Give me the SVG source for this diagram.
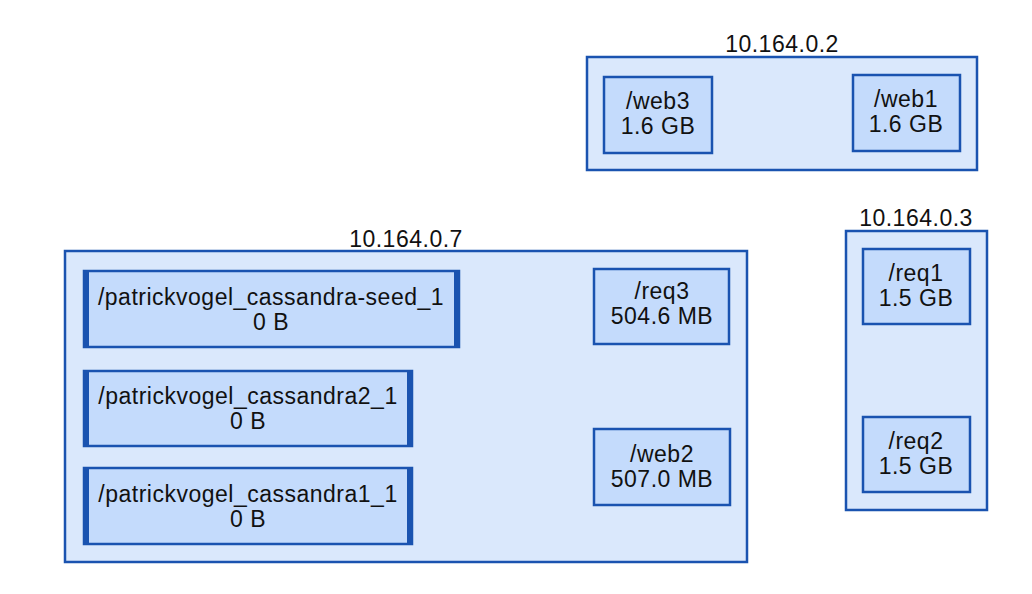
<svg xmlns="http://www.w3.org/2000/svg" width="1032" height="594" viewBox="0 0 1032 594">
<style>
.cl{fill:#dae8fc;stroke:#1a53b0;stroke-width:2.5}
.nd{fill:#c4dbfc;stroke:#1a53b0;stroke-width:2.5}
.bar{fill:#1a53b0}
text{font-family:"Liberation Sans",Arial,sans-serif;font-size:23px;letter-spacing:0.5px;fill:#111;text-anchor:middle}
</style>
<rect width="1032" height="594" fill="#fff"/>
<g id="cluster-10.164.0.2">
<rect class="cl" x="587" y="57" width="390" height="113"/>
<text x="782" y="52">10.164.0.2</text>
</g>
<g id="cluster-10.164.0.7">
<rect class="cl" x="65" y="251" width="682" height="311"/>
<text x="406" y="247">10.164.0.7</text>
</g>
<g id="cluster-10.164.0.3">
<rect class="cl" x="846" y="231" width="141" height="279"/>
<text x="916" y="226">10.164.0.3</text>
</g>
<g id="web3">
<rect class="nd" x="604" y="77" width="108" height="76"/>
<text x="658" y="109">/web3</text><text x="658" y="134">1.6 GB</text>
</g>
<g id="web1">
<rect class="nd" x="853" y="75" width="107" height="76"/>
<text x="906" y="107">/web1</text><text x="906" y="132">1.6 GB</text>
</g>
<g id="seed">
<rect class="nd" x="84" y="271" width="375" height="76"/>
<rect class="bar" x="84" y="271" width="5" height="76"/><rect class="bar" x="454" y="271" width="5" height="76"/>
<text x="271" y="305">/patrickvogel_cassandra-seed_1</text><text x="271" y="330">0 B</text>
</g>
<g id="cassandra2">
<rect class="nd" x="84" y="371" width="328" height="75"/>
<rect class="bar" x="84" y="371" width="5" height="75"/><rect class="bar" x="407" y="371" width="5" height="75"/>
<text x="248" y="404">/patrickvogel_cassandra2_1</text><text x="248" y="429">0 B</text>
</g>
<g id="cassandra1">
<rect class="nd" x="84" y="468" width="328" height="76"/>
<rect class="bar" x="84" y="468" width="5" height="76"/><rect class="bar" x="407" y="468" width="5" height="76"/>
<text x="248" y="502">/patrickvogel_cassandra1_1</text><text x="248" y="527">0 B</text>
</g>
<g id="req3">
<rect class="nd" x="594" y="269" width="135" height="75"/>
<text x="662" y="299">/req3</text><text x="662" y="324">504.6 MB</text>
</g>
<g id="web2">
<rect class="nd" x="594" y="429" width="136" height="76"/>
<text x="662" y="462">/web2</text><text x="662" y="487">507.0 MB</text>
</g>
<g id="req1">
<rect class="nd" x="863" y="249" width="107" height="75"/>
<text x="916" y="281">/req1</text><text x="916" y="306">1.5 GB</text>
</g>
<g id="req2">
<rect class="nd" x="863" y="417" width="107" height="75"/>
<text x="916" y="449">/req2</text><text x="916" y="474">1.5 GB</text>
</g>
<g id="connectors"></g>
</svg>
